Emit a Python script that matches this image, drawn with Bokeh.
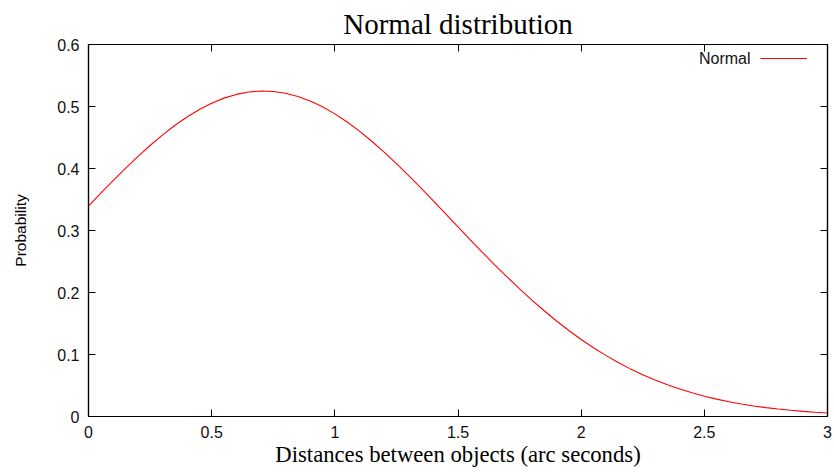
from bokeh.plotting import figure
from bokeh.models import Range1d, FixedTicker, LinearAxis, Legend, LegendItem, Label
from bokeh.embed import file_html
from bokeh.resources import INLINE

# Distance values (arc seconds) and probability
distance = [0.0, 0.05, 0.1, 0.15, 0.2, 0.25, 0.3, 0.35, 0.4, 0.45,
            0.5, 0.55, 0.6, 0.65, 0.7, 0.75, 0.8, 0.85, 0.9, 0.95,
            1.0, 1.05, 1.1, 1.15, 1.2, 1.25, 1.3, 1.35, 1.4, 1.45,
            1.5, 1.55, 1.6, 1.65, 1.7, 1.75, 1.8, 1.85, 1.9, 1.95,
            2.0, 2.05, 2.1, 2.15, 2.2, 2.25, 2.3, 2.35, 2.4, 2.45,
            2.5, 2.55, 2.6, 2.65, 2.7, 2.75, 2.8, 2.85, 2.9, 2.95, 3.0]
probability = [0.3393, 0.3601, 0.3804, 0.4002, 0.4191, 0.4371, 0.4539, 0.4693, 0.4831, 0.4952,
               0.5053, 0.5135, 0.5195, 0.5234, 0.5250, 0.5243, 0.5213, 0.5161, 0.5088, 0.4995,
               0.4881, 0.4750, 0.4602, 0.4440, 0.4265, 0.4079, 0.3884, 0.3683, 0.3477, 0.3268,
               0.3059, 0.2850, 0.2644, 0.2443, 0.2248, 0.2059, 0.1877, 0.1705, 0.1541, 0.1387,
               0.1243, 0.1109, 0.0986, 0.0872, 0.0768, 0.0674, 0.0589, 0.0512, 0.0443, 0.0382,
               0.0328, 0.0280, 0.0239, 0.0202, 0.0170, 0.0143, 0.0120, 0.0100, 0.0083, 0.0068, 0.0056]

x_ticks = [0, 0.5, 1, 1.5, 2, 2.5, 3]
x_tick_labels = ["0", "0.5", "1", "1.5", "2", "2.5", "3"]
y_ticks = [0, 0.1, 0.2, 0.3, 0.4, 0.5, 0.6]
y_tick_labels = ["0", "0.1", "0.2", "0.3", "0.4", "0.5", "0.6"]

title_text = "Normal distribution"
x_label = "Distances between objects (arc seconds)"
y_label = "Probability"
series_name = "Normal"

SANS = "Liberation Sans"
SERIF = "Liberation Serif"

p = figure(width=834, height=473, output_backend="svg", toolbar_location=None,
           x_range=Range1d(0, 3), y_range=Range1d(0, 0.6),
           x_axis_location=None, y_axis_location=None,
           min_border_left=88, min_border_right=7, min_border_top=43, min_border_bottom=57)
p.grid.visible = False
p.outline_line_color = "black"
p.outline_line_width = 1.2
p.background_fill_color = "white"
p.border_fill_color = "white"

p.title.text = title_text
p.title.align = "center"
p.title.text_font = SERIF
p.title.text_font_size = "29px"
p.title.text_font_style = "normal"
p.title.text_color = "black"

def style_axis(ax, ticks, labels, show_labels):
    ax.ticker = FixedTicker(ticks=ticks)
    ax.major_tick_in = 7
    ax.major_tick_out = 0
    ax.minor_tick_in = 0
    ax.minor_tick_out = 0
    ax.axis_line_color = "black"
    ax.axis_line_width = 1.2
    ax.major_tick_line_color = "black"
    ax.major_tick_line_width = 1
    if show_labels:
        ax.major_label_overrides = {t: l for t, l in zip(ticks, labels)}
        ax.major_label_text_font = SANS
        ax.major_label_text_font_size = "16px"
        ax.major_label_text_color = "#111111"
        ax.major_label_standoff = 9
    else:
        ax.major_label_text_font_size = "1px"
        ax.major_label_text_color = None
        ax.major_label_standoff = 0

xb = LinearAxis(axis_label=x_label)
style_axis(xb, x_ticks, x_tick_labels, True)
xb.axis_label_text_font = SERIF
xb.axis_label_text_font_size = "22.7px"
xb.axis_label_text_font_style = "normal"
xb.axis_label_text_color = "black"
xb.axis_label_standoff = 1
p.add_layout(xb, "below")

yl = LinearAxis(axis_label=y_label)
style_axis(yl, y_ticks, y_tick_labels, True)
yl.axis_label_text_font = SANS
yl.axis_label_text_font_size = "15.5px"
yl.axis_label_text_font_style = "normal"
yl.axis_label_text_color = "black"
yl.axis_label_standoff = 25
p.add_layout(yl, "left")

xt = LinearAxis()
style_axis(xt, x_ticks, x_tick_labels, False)
p.add_layout(xt, "above")

yr = LinearAxis()
style_axis(yr, y_ticks, y_tick_labels, False)
p.add_layout(yr, "right")

r = p.line(distance, probability, line_color="red", line_width=1.1)

legend = Legend(items=[LegendItem(label=" ", renderers=[r])], location=(672, 351),
                padding=0, margin=0, spacing=0, border_line_color=None,
                background_fill_alpha=0, glyph_width=47, glyph_height=14,
                label_height=14, label_standoff=0, label_width=0,
                label_text_font_size="1px")
p.add_layout(legend, "center")

p.add_layout(Label(x=662, y=358, x_units="screen", y_units="screen", text=series_name,
                   text_align="right", text_baseline="middle", text_font=SANS,
                   text_font_size="16px", text_color="#111111"))

open("out.html", "w").write(file_html(p, INLINE))
